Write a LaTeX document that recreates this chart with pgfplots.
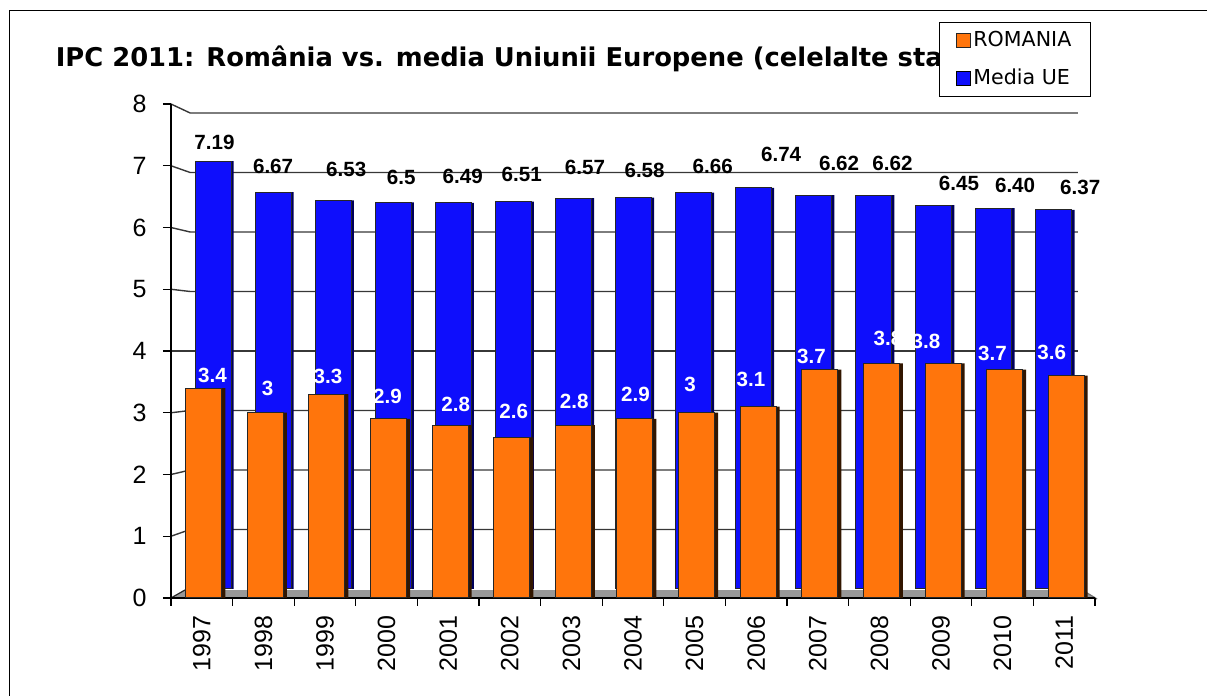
\documentclass[border=0pt]{standalone}
\usepackage{fontspec}
\setmainfont{Liberation Sans}
\newfontfamily\verdana{DejaVu Sans}
\usepackage{pgfplots}
\usepackage{pgfplotstable}
\pgfplotsset{compat=1.18}

\definecolor{orange1}{RGB}{255,117,12}
\definecolor{orside}{RGB}{50,22,0}
\definecolor{blue1}{RGB}{14,14,252}
\definecolor{blside}{RGB}{0,0,90}
\definecolor{floorgray}{RGB}{152,152,152}
\definecolor{gridc}{RGB}{55,55,55}

\pgfplotstableread{
x y lab dx dy
0 7.19 7.19 0.75 9.25
1 6.67 6.67 0 13.05
2 6.53 6.53 6.5 15.6
3 6.5 6.5 4 12.3
4 6.49 6.49 4.7 13.05
5 6.51 6.51 4.15 13.7
6 6.57 6.57 5.8 15.2
7 6.58 6.58 5.55 13.75
8 6.66 6.66 9.6 13.35
9 6.74 6.74 13.75 17
10 6.62 6.62 12.7 15.9
11 6.62 6.62 9.35 15.9
12 6.45 6.45 12.6 10.95
13 6.40 6.40 10.6 11.6
14 6.37 6.37 13.1 11.35
}\mediaue

\pgfplotstableread{
x y lab dx dy
0 3.4 3.4 5.35 6.5
1 3 3 2.1 12.25
2 3.3 3.3 1.5 8.75
3 2.9 2.9 0.45 11.1
4 2.8 2.8 3.75 10.55
5 2.6 2.6 2 12.9
6 2.8 2.8 1.45 11.7
7 2.9 2.9 1.2 12.3
8 3 3 -2.3 14.25
9 3.1 3.1 -2.6 13.65
10 3.7 3.7 -3.15 6.75
11 3.8 3.8 4.3 12.7
12 3.8 3.8 -7.5 10.85
13 3.7 3.7 -5.1 8.1
14 3.6 3.6 -6.25 11.5
}\romania

\begin{document}
\begin{tikzpicture}
\useasboundingbox (0,0) rectangle (603.5pt,348pt);
\draw[line width=0.6pt] (4.75pt,-2pt) -- (4.75pt,342.75pt) -- (610pt,342.75pt);
\node[anchor=base west, font=\verdana\bfseries\fontsize{12.9}{15}\selectfont, inner sep=0pt] at (27.75pt,314.5pt) {IPC 2011: România vs. media Uniunii Europene (celelalte state)};

% back plane: floor, wall gridlines, Media UE bars
\begin{axis}[at={(91.5pt,53.5pt)}, anchor=south west, scale only axis,
  width=450.5pt, height=238pt, xmin=-0.5, xmax=14.5, ymin=0, ymax=8,
  hide axis, clip=false]
\fill[floorgray] (axis cs:-0.7,-0.151) -- (axis cs:14.718,-0.168) -- (axis cs:14.468,-0.017) -- (axis cs:-0.467,-0.017) -- cycle;
\draw[black!85, line width=0.6pt] (axis cs:-0.7,-0.151) -- (axis cs:-0.467,-0.017);
\draw[black!55, line width=0.6pt] (axis cs:14.718,-0.168) -- (axis cs:14.468,-0.017);
\draw[gridc, line width=0.7pt] (axis cs:-0.7,0.8866) -- (axis cs:-0.38,1) -- (axis cs:14.4,1);
\draw[gridc, line width=0.7pt] (axis cs:-0.7,1.9244) -- (axis cs:-0.38,2) -- (axis cs:14.4,2);
\draw[gridc, line width=0.7pt] (axis cs:-0.7,2.9622) -- (axis cs:-0.38,3) -- (axis cs:14.4,3);
\draw[gridc, line width=0.7pt] (axis cs:-0.7,4.0) -- (axis cs:-0.38,4) -- (axis cs:14.4,4);
\draw[gridc, line width=0.7pt] (axis cs:-0.7,5.0378) -- (axis cs:-0.38,5) -- (axis cs:14.4,5);
\draw[gridc, line width=0.7pt] (axis cs:-0.7,6.0756) -- (axis cs:-0.38,6) -- (axis cs:14.4,6);
\draw[gridc, line width=0.7pt] (axis cs:-0.7,7.1134) -- (axis cs:-0.38,7) -- (axis cs:14.4,7);
\draw[gridc, line width=0.7pt] (axis cs:-0.7,8.1513) -- (axis cs:-0.38,8) -- (axis cs:14.4,8);
\addplot[ybar, bar width=18pt, bar shift=1.3pt, fill=blside, draw=none, forget plot] table[x=x,y=y]{\mediaue};
\addplot[ybar, bar width=18pt, bar shift=0pt, fill=blue1, draw=black!85, line width=0.5pt,
  point meta=explicit symbolic, nodes near coords,
  visualization depends on={\thisrow{dx}\as\labdx},
  visualization depends on={\thisrow{dy}\as\labdy},
  every node near coord/.append style={font=\bfseries\fontsize{10.3}{12}\selectfont, text=black, anchor=center, inner sep=0pt, xshift=\labdx pt, yshift=\labdy pt}]
  table[x=x,y=y,meta=lab]{\mediaue};
\end{axis}

% front plane: ROMANIA bars, axes, legend
\begin{axis}[at={(85.5pt,49pt)}, anchor=south west, scale only axis,
  width=462pt, height=247pt, xmin=-0.5, xmax=14.5, ymin=0, ymax=8, clip=false,
  axis x line*=bottom, axis y line*=left,
  axis line style={line width=0.6pt, black},
  tick align=outside, major tick length=4pt, minor tick length=4pt,
  tick style={line width=0.6pt, black},
  every major x tick/.append style={draw=none},
  xtick={0,...,14},
  xticklabels={1997,1998,1999,2000,2001,2002,2003,2004,2005,2006,2007,2008,2009,2010,2011},
  minor xtick={-0.5,0.5,...,14.5},
  ytick={0,...,8},
  /pgf/number format/assume math mode=true,
  tick label style={font=\fontsize{12.5}{15}\selectfont},
  xticklabel style={rotate=90, anchor=east, inner sep=0pt, xshift=-4.5pt},
  yticklabel style={anchor=east, inner sep=0pt, xshift=-8pt},
  legend image code/.code={\draw[#1, line width=0.6pt] (0pt,-3.5pt) rectangle (7pt,3.5pt);},
  legend cell align=left,
  legend style={at={(0.8307,1.166)}, anchor=north west, draw=black, line width=0.6pt, fill=white,
    font=\verdana\fontsize{10.3}{12}\selectfont, inner xsep=8.5pt, inner ysep=3.5pt, row sep=7.5pt,
    nodes={inner sep=1pt}},
  ]
\addplot[ybar, bar width=18pt, bar shift=2.75pt, fill=orside, draw=none, forget plot] table[x=x,y=y]{\romania};
\addplot[ybar, bar width=18pt, bar shift=1pt, fill=orange1, draw=black!85, line width=0.5pt,
  point meta=explicit symbolic, nodes near coords,
  visualization depends on={\thisrow{dx}\as\labdx},
  visualization depends on={\thisrow{dy}\as\labdy},
  every node near coord/.append style={font=\bfseries\fontsize{10.3}{12}\selectfont, text=white, anchor=center, inner sep=0pt, xshift=\labdx pt, yshift=\labdy pt}]
  table[x=x,y=y,meta=lab]{\romania};
\addlegendentry{ROMANIA}
\addlegendimage{fill=blue1, draw=black}
\addlegendentry{Media UE}
\end{axis}
\end{tikzpicture}
\end{document}
